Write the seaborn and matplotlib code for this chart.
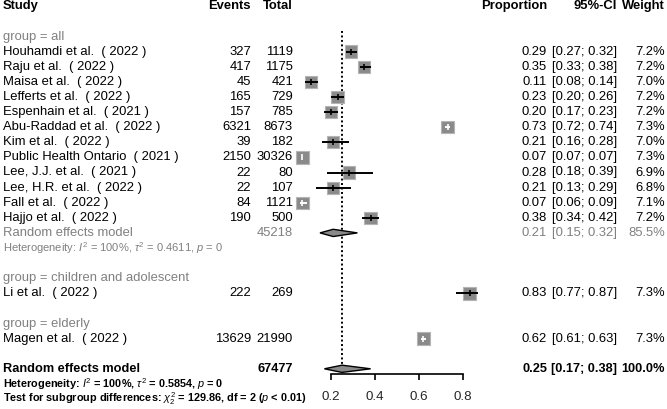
import numpy as np
import pandas as pd
import matplotlib.pyplot as plt
import seaborn as sns
from matplotlib.transforms import blended_transform_factory

sns.set_theme(style="white")
plt.rcParams["font.family"] = ["Liberation Sans", "DejaVu Sans"]
plt.rcParams["mathtext.fontset"] = "custom"
plt.rcParams["mathtext.rm"] = "Liberation Sans"
plt.rcParams["mathtext.it"] = "Liberation Sans:italic"
plt.rcParams["mathtext.bf"] = "Liberation Sans:bold"

# ------------------------------------------------------------------
# data
# ------------------------------------------------------------------
studies = ["Houhamdi et al.  ( 2022 )", "Raju et al.  ( 2022 )", "Maisa et al.  ( 2022 )",
           "Lefferts et al.  ( 2022 )", "Espenhain et al.  ( 2021 )",
           "Abu-Raddad et al.  ( 2022 )", "Kim et al.  ( 2022 )",
           "Public Health Ontario  ( 2021 )", "Lee, J.J. et al.  ( 2021 )",
           "Lee, H.R. et al.  ( 2022 )", "Fall et al.  ( 2022 )", "Hajjo et al.  ( 2022 )",
           "Li et al.  ( 2022 )", "Magen et al.  ( 2022 )"]
groups = ["all"] * 12 + ["children and adolescent", "elderly"]
events = [327, 417, 45, 165, 157, 6321, 39, 2150, 22, 22, 84, 190, 222, 13629]
totals = [1119, 1175, 421, 729, 785, 8673, 182, 30326, 80, 107, 1121, 500, 269, 21990]
prop = [0.29, 0.35, 0.11, 0.23, 0.20, 0.73, 0.21, 0.07, 0.28, 0.21, 0.07, 0.38, 0.83, 0.62]
lower = [0.27, 0.33, 0.08, 0.20, 0.17, 0.72, 0.16, 0.07, 0.18, 0.13, 0.06, 0.34, 0.77, 0.61]
upper = [0.32, 0.38, 0.14, 0.26, 0.23, 0.74, 0.28, 0.07, 0.39, 0.29, 0.09, 0.42, 0.87, 0.63]
weights = [7.2, 7.2, 7.0, 7.2, 7.2, 7.3, 7.0, 7.3, 6.9, 6.8, 7.1, 7.2, 7.3, 7.3]

# random effects: subgroup "all" and overall
re_total = [45218, 67477]
re_est = [0.21, 0.25]
re_lower = [0.15, 0.17]
re_upper = [0.32, 0.38]
re_weight = [85.5, 100.0]

ticks = [0.2, 0.4, 0.6, 0.8]

df = pd.DataFrame(dict(study=studies, group=groups, events=events, total=totals,
                       prop=prop, lo=lower, hi=upper, w=weights))

# layout: row numbers
row_of_group = {"all": 2, "children and adolescent": 18, "elderly": 21}
df["row"] = [3 + i for i in range(12)] + [19, 22]
re_rows = [15, 24]

W, H = 667, 409
fig = plt.figure(figsize=(W / 100, H / 100), dpi=100)
ax = fig.add_axes([0, 0, 1, 1])
# x: proportion scale, 0 sits at pixel 287, 220 px per unit
ax.set_xlim(-287 / 220, (W - 287) / 220)
ax.set_ylim(3 + (H - 51.7) / 15.1, 3 - 51.7 / 15.1)
for s in ["top", "left", "right"]:
    ax.spines[s].set_visible(False)
ax.spines["bottom"].set_position(("data", 24.35))
ax.spines["bottom"].set_bounds(ticks[0], ticks[-1])
ax.spines["bottom"].set_color("black")
ax.spines["bottom"].set_linewidth(1.2)
ax.set_xticks(ticks)
ax.set_xticklabels([f"{t:.1f}" for t in ticks])
ax.tick_params(axis="x", direction="out", length=4.5, width=1.2, color="black",
               pad=8, labelsize=9.6, bottom=True)
ax.set_yticks([])
ax.patch.set_alpha(0)

GRAY = "#808080"
SQ = "#8a8a8a"

# reference line at overall estimate
ax.plot([re_est[1], re_est[1]], [1.6, re_rows[1]], color="black", lw=1.4,
        ls=(0, (1, 1.3)), zorder=1)

# squares
half_w = 6 / 220
sns.scatterplot(data=df, x="prop", y="row", marker="s", s=80 * df["w"] / 7.2,
                color=SQ, edgecolor="#b5b5b5", linewidth=0.8, ax=ax, zorder=3,
                legend=False)
for _, r in df.iterrows():
    inside = (r.lo > r.prop - half_w) and (r.hi < r.prop + half_w)
    c = "white" if inside else "black"
    ax.plot([r.lo, r.hi], [r.row, r.row], color=c, lw=1.4, zorder=4,
            solid_capstyle="butt")
    ax.plot([r.prop], [r.row], marker="|", ms=4, mew=1.2, color=c, zorder=5)

# diamonds
for est, lo, hi, row in zip(re_est, re_lower, re_upper, re_rows):
    ax.fill([lo, est, hi, est], [row, row - 0.24, row, row + 0.24],
            facecolor=SQ, edgecolor="black", lw=1, zorder=3)
ax.set_xlabel("")
ax.set_ylabel("")

# ------------------------------------------------------------------
# text columns (x in pixels -> axes fraction)
# ------------------------------------------------------------------
tr = blended_transform_factory(ax.transAxes, ax.transData)
FS = 9.4


def put(px, row, s, ha="left", color="black", weight="normal", size=FS):
    ax.text(px / W, row, s, transform=tr, ha=ha, va="center", color=color,
            fontweight=weight, fontsize=size)


X_STUDY, X_EV, X_TOT, X_PROP, X_CI, X_W = 3, 251, 293, 547, 617, 665

put(X_STUDY, 0, "Study", weight="bold")
put(X_EV, 0, "Events", ha="right", weight="bold")
put(X_TOT, 0, "Total", ha="right", weight="bold")
put(X_PROP, 0, "Proportion", ha="right", weight="bold")
put(X_CI, 0, "95%-CI", ha="right", weight="bold")
put(X_W, 0, "Weight", ha="right", weight="bold")

for g, row in row_of_group.items():
    put(X_STUDY, row, f"group = {g}", color=GRAY)

for _, r in df.iterrows():
    put(X_STUDY, r.row, r.study)
    put(X_EV, r.row, f"{r.events}", ha="right")
    put(X_TOT, r.row, f"{r.total}", ha="right")
    put(X_PROP, r.row, f"{r.prop:.2f}", ha="right")
    put(X_CI, r.row, f"[{r.lo:.2f}; {r.hi:.2f}]", ha="right")
    put(X_W, r.row, f"{r.w:.1f}%", ha="right")

# subgroup random effects
put(X_STUDY, re_rows[0], "Random effects model", color=GRAY)
put(X_TOT, re_rows[0], f"{re_total[0]}", ha="right", color=GRAY)
put(X_PROP, re_rows[0], f"{re_est[0]:.2f}", ha="right", color=GRAY)
put(X_CI, re_rows[0], f"[{re_lower[0]:.2f}; {re_upper[0]:.2f}]", ha="right", color=GRAY)
put(X_W, re_rows[0], f"{re_weight[0]:.1f}%", ha="right", color=GRAY)
put(X_STUDY, 16, r"Heterogeneity: $I^2$ = 100%, $\tau^2$ = 0.4611, $p$ = 0",
    color=GRAY, size=8)

# overall random effects
put(X_STUDY, re_rows[1], "Random effects model", weight="bold", size=9.2)
put(X_TOT, re_rows[1], f"{re_total[1]}", ha="right", weight="bold", size=9.2)
put(X_PROP, re_rows[1], f"{re_est[1]:.2f}", ha="right", weight="bold", size=9.2)
put(X_CI, re_rows[1], f"[{re_lower[1]:.2f}; {re_upper[1]:.2f}]", ha="right",
    weight="bold", size=9.2)
put(X_W, re_rows[1], f"{re_weight[1]:.1f}%", ha="right", weight="bold", size=9.2)
put(X_STUDY, 25, r"Heterogeneity: $I^2$ = 100%, $\tau^2$ = 0.5854, $p$ = 0",
    weight="bold", size=7.8)
put(X_STUDY, 26, r"Test for subgroup differences: $\chi^2_2$ = 129.86, df = 2 ($p$ < 0.01)",
    weight="bold", size=7.8)

fig.savefig("out.png", dpi=100)
